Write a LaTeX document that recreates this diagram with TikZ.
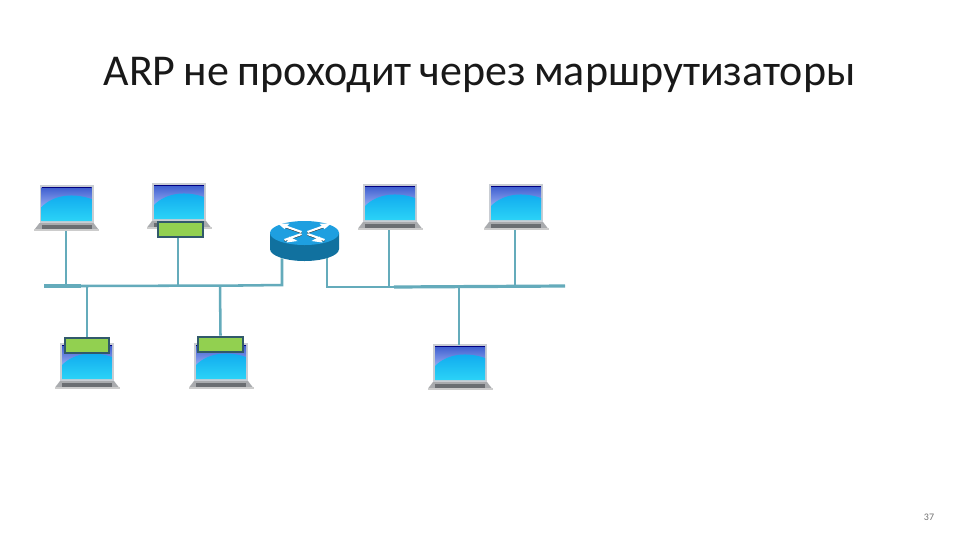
\documentclass[tikz,border=0pt]{standalone}
\usepackage{fontspec}
\setmainfont{Carlito}
\usetikzlibrary{shapes.geometric}
\definecolor{wire}{HTML}{64ABBB}
\definecolor{boxfill}{HTML}{92D050}
\definecolor{boxline}{HTML}{31596B}
\definecolor{frameg}{HTML}{C9CDD3}
\definecolor{routertop}{HTML}{1E9FE0}
\definecolor{routerside}{HTML}{11719F}
\definecolor{skytop}{HTML}{3F5FD0}
\definecolor{skybot}{HTML}{9DB4F5}
\definecolor{wavea}{HTML}{0FA8EE}
\definecolor{waveb}{HTML}{2BD3F7}
\definecolor{baseg}{HTML}{A9ABAE}
\definecolor{keyg}{HTML}{6B6E72}
\tikzset{
  x=.75pt,y=-.75pt,
  wireline/.style={draw=wire,line width=1.9pt},
  wirethick/.style={draw=wire,line width=2.4pt},
  tagbox/.style={draw=boxline,fill=boxfill,line width=1.5pt,minimum width=33.5pt,minimum height=11.8pt,inner sep=0pt},
  anchorpt/.style={inner sep=0pt,minimum size=0pt},
  pics/laptop/.style={code={
    \fill[frameg] (-27,0) rectangle (27,39);
    \fill[baseg] (-27,38) -- (27,38) -- (32,44.5) -- (-32,44.5) -- cycle;
    \fill[keyg] (-25,40) rectangle (25,43.5);
    \fill[gray!40] (-32.5,44.3) rectangle (32.5,46);
    \begin{scope}
      \clip (-25,2.5) rectangle (25,36);
      \shade[top color=skytop,bottom color=skybot] (-25,2.5) rectangle (25,24);
      \shade[top color=wavea,bottom color=waveb] (-25,36) -- (-25,22) .. controls (-12,9) and (8,8) .. (25,14) -- (25,36) -- cycle;
      \draw[blue!50!black,line width=.8pt] (-25,2.5) -- (25,2.5);
    \end{scope}
  }}
}
\begin{document}
\begin{tikzpicture}
\useasboundingbox (0,0) rectangle (960,540);
\fill[white] (0,0) rectangle (960,540);
\node[anchor=base,inner sep=0pt,font=\fontsize{33pt}{40pt}\selectfont,text=black!90] (title) at (479.5,85) {\spaceskip=.185em\relax ARP не проходит через маршрутизаторы};
\node[anchor=base,inner sep=0pt,font=\fontsize{7.5pt}{9pt}\selectfont,text=gray!90!black] (pagenum) at (929,520) {37};

% laptops
\pic at (66.5,185) {laptop};
\pic at (179,183) {laptop};
\pic at (390,184) {laptop};
\pic at (516,184) {laptop};
\pic at (87,343) {laptop};
\pic at (221,343) {laptop};
\pic at (460,344) {laptop};

% laptop connection points
\node[anchorpt] (l1) at (66,231) {};
\node[anchorpt] (l3) at (389,230) {};
\node[anchorpt] (l4) at (515,230) {};
\node[anchorpt] (l7) at (459,345) {};

% green boxes
\node[tagbox] (b2) at (180.5,229.5) {};
\node[tagbox] (b5) at (87,345.5) {};
\node[tagbox] (b6) at (220.5,344.5) {};

% router
\fill[routerside] (270,233) -- (270,249) arc[start angle=180,end angle=0,x radius=34.5,y radius=12] -- (339,233) -- cycle;
\fill[routertop] (304.5,233) ellipse[x radius=34.5,y radius=12];
\begin{scope}[shift={(304.5,233)}]
  \foreach \sx/\sy in {1/1,-1/1,1/-1,-1/-1}{
    \draw[black!80,line width=1.1pt] (\sx*3,\sy*1+.9) -- (\sx*20,\sy*7+.9);
    \draw[white,line width=1.6pt] (\sx*3,\sy*1) -- (\sx*20,\sy*7);
  }
  \fill[white] (-26,-9) -- (-15,-9.5) -- (-20,-4) -- cycle;
  \fill[white] (26,-9) -- (15,-9.5) -- (20,-4) -- cycle;
  \fill[white] (-7,8) -- (-18,9.5) -- (-15,3.5) -- cycle;
  \fill[white] (7,8) -- (18,9.5) -- (15,3.5) -- cycle;
\end{scope}
\node[anchorpt] (rl) at (282,258) {};
\node[anchorpt] (rr) at (327,258) {};

% bus coordinates
\coordinate (a) at (44,286);
\coordinate (b) at (81,286);
\coordinate (c) at (241,285.5);
\coordinate (d) at (282,285);
\coordinate (e) at (327,287);
\coordinate (f) at (394,287);
\coordinate (g) at (565,286);
\coordinate (t1) at (66,286);
\coordinate (t2) at (178,285.5);
\coordinate (t5) at (87,285.5);
\coordinate (t6) at (220,285.5);
\coordinate (t3) at (389,287);
\coordinate (t4) at (515,286);
\coordinate (t7) at (459,286);
\coordinate (b2b) at (178,238);

\draw[wirethick] (a) -- (b);
\draw[wireline] (b) -- (c);
\draw[wireline] (c) -- (d) -- (rl);
\draw[wireline] (rr) -- (e) -- (f);
\draw[wirethick] (f) -- (g);
\draw[wireline] (l1) -- (t1);
\draw[wireline] (b2b) -- (t2);
\draw[wireline] (t5) -- (b5.north);
\draw[wireline] (t6) -- (b6.north);
\draw[wireline] (l3) -- (t3);
\draw[wireline] (l4) -- (t4);
\draw[wireline] (t7) -- (l7);
\end{tikzpicture}
\end{document}
